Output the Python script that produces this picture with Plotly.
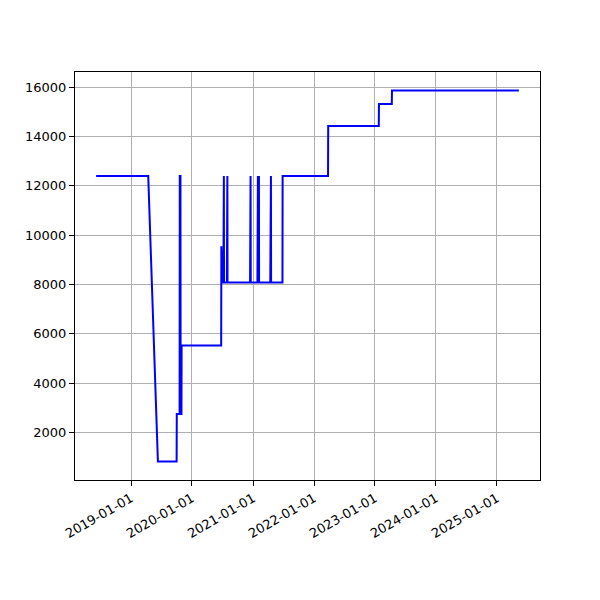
import pandas as pd
import plotly.graph_objects as go

dates = [
    "2018-06-06", "2019-04-14", "2019-06-11", "2019-10-01", "2019-10-02",
    "2019-10-19", "2019-10-20", "2019-10-24", "2019-10-25", "2019-10-30",
    "2019-10-31", "2020-06-24", "2020-06-25", "2020-06-27", "2020-06-29",
    "2020-07-01", "2020-07-07", "2020-07-08", "2020-07-10", "2020-07-11",
    "2020-07-28", "2020-07-29", "2020-07-31", "2020-08-01", "2020-12-14",
    "2020-12-15", "2020-12-17", "2020-12-18", "2021-01-27", "2021-01-28",
    "2021-01-30", "2021-01-31", "2021-02-02", "2021-02-03", "2021-02-05",
    "2021-02-06", "2021-04-14", "2021-04-15", "2021-04-18", "2021-04-19",
    "2021-06-26", "2021-06-27", "2022-03-26", "2022-03-27", "2023-01-24",
    "2023-01-25", "2023-04-12", "2023-04-13", "2025-05-12",
]
values = [
    12400, 12400, 820, 820, 2750,
    2750, 12400, 12400, 2750, 2750,
    5530, 5530, 9550, 8080, 9550,
    8080, 8080, 12400, 12400, 8080,
    8080, 12400, 12400, 8080, 8080,
    12400, 12400, 8080, 8080, 12400,
    12400, 8080, 8080, 12400, 12400,
    8080, 8080, 12400, 12400, 8080,
    8080, 12400, 12400, 14430, 14430,
    15320, 15320, 15870, 15870,
]
x_ticks = ["2019-01-01", "2020-01-01", "2021-01-01", "2022-01-01",
           "2023-01-01", "2024-01-01", "2025-01-01"]
y_ticks = [2000, 4000, 6000, 8000, 10000, 12000, 14000, 16000]

dt = pd.to_datetime(dates)
span = dt.max() - dt.min()
x_range = [dt.min() - span * 0.05, dt.max() + span * 0.05]
vmin, vmax = min(values), max(values)
vm = (vmax - vmin) * 0.05
y_range = [vmin - vm, vmax + vm]

fig = go.Figure(go.Scatter(
    x=dt, y=values, mode="lines",
    line=dict(color="#0000ff", width=2),
))

axis_common = dict(
    showgrid=True, gridcolor="#b0b0b0", gridwidth=1,
    showline=True, linecolor="black", linewidth=1, mirror=True,
    ticks="outside", ticklen=5, tickwidth=1, tickcolor="black",
    zeroline=False,
    tickfont=dict(family="DejaVu Sans", size=13, color="black"),
)

fig.update_layout(
    width=600, height=600,
    margin=dict(l=67, r=68, t=64, b=128),
    paper_bgcolor="white", plot_bgcolor="white",
    showlegend=False,
    xaxis=dict(range=x_range, tickvals=pd.to_datetime(x_ticks),
               ticktext=x_ticks, tickangle=-30, **axis_common),
    yaxis=dict(range=y_range, tickvals=y_ticks,
               ticktext=[str(v) for v in y_ticks], **axis_common),
)

fig.write_html("out.html")
